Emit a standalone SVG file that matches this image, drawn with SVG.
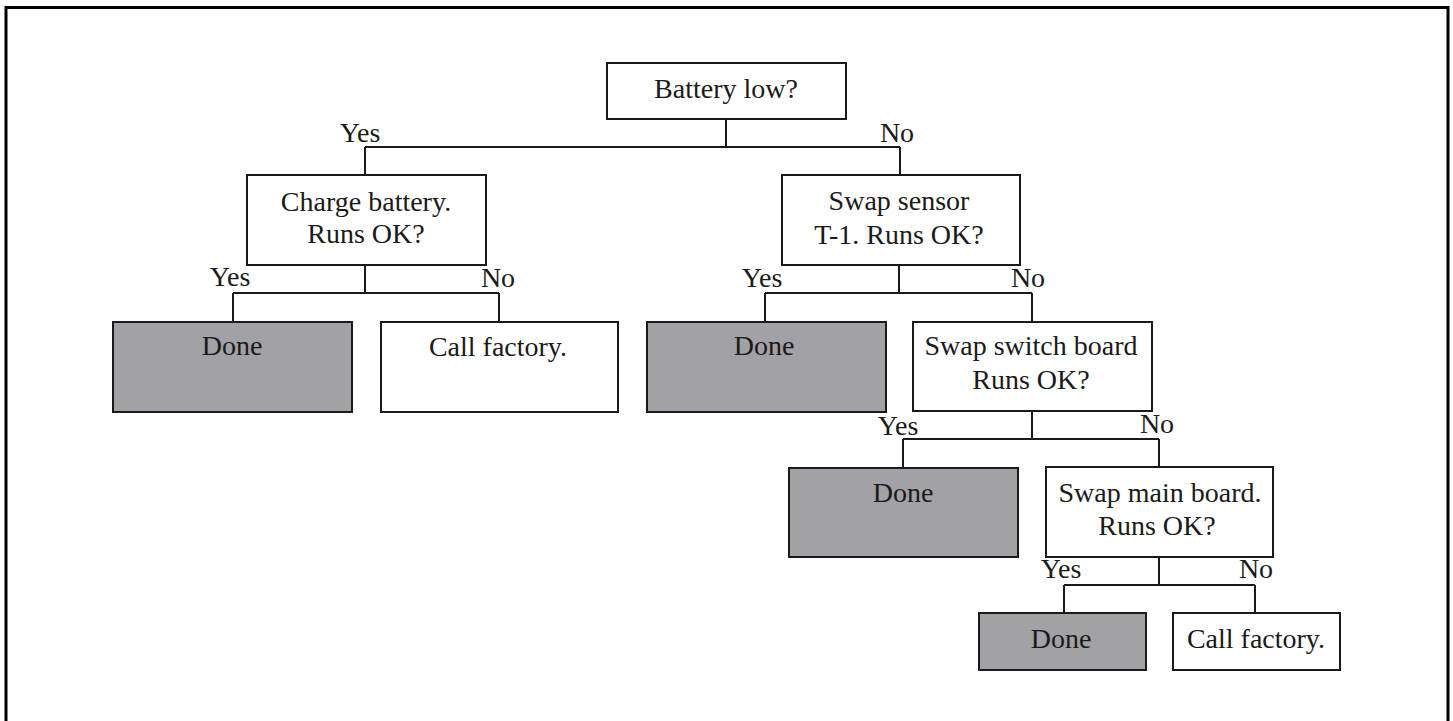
<svg xmlns="http://www.w3.org/2000/svg" width="1453" height="721" viewBox="0 0 1453 721">
<style>
.box{fill:#fff;stroke:#1a1a1a;stroke-width:2}
.done{fill:#a2a1a6;stroke:#1a1a1a;stroke-width:2}
.t{font-family:"Liberation Serif","Times New Roman",serif;font-size:28px;fill:#1a1a1a;text-anchor:middle}
.c{fill:none;stroke:#1a1a1a;stroke-width:2}
</style>
<rect x="0" y="0" width="1453" height="721" fill="#fff"/>
<rect x="6" y="7.5" width="1442" height="730" fill="none" stroke="#000" stroke-width="3"/>
<g id="connectors">
<path class="c" d="M726 119V147M365 147H900M365 147V175M900 147V175"/>
<path class="c" d="M365 265V293M233 293H499M233 293V322M499 293V322"/>
<path class="c" d="M899 265V293M765 293H1032M765 293V322M1032 293V322"/>
<path class="c" d="M1032 411V439M903 439H1159M903 439V468M1159 439V468"/>
<path class="c" d="M1159 557V585M1064 585H1255M1064 585V613M1255 585V613"/>
<text class="t" x="360" y="142">Yes</text>
<text class="t" x="897" y="142">No</text>
<text class="t" x="230" y="286">Yes</text>
<text class="t" x="498" y="287">No</text>
<text class="t" x="762" y="287">Yes</text>
<text class="t" x="1028" y="287">No</text>
<text class="t" x="898" y="435">Yes</text>
<text class="t" x="1157" y="433">No</text>
<text class="t" x="1061" y="578">Yes</text>
<text class="t" x="1256" y="578">No</text>
</g>
<g id="battery">
<rect class="box" x="607" y="63" width="239" height="56"/>
<text class="t" x="726" y="98">Battery low?</text>
</g>
<g id="charge">
<rect class="box" x="247" y="175" width="239" height="90"/>
<text class="t" x="366" y="211">Charge battery.</text>
<text class="t" x="366" y="243">Runs OK?</text>
</g>
<g id="sensor">
<rect class="box" x="782" y="175" width="238" height="90"/>
<text class="t" x="899" y="210">Swap sensor</text>
<text class="t" x="899" y="244">T-1. Runs OK?</text>
</g>
<g id="done1">
<rect class="done" x="113" y="322" width="239" height="90"/>
<text class="t" x="232" y="355">Done</text>
</g>
<g id="callfactory1">
<rect class="box" x="381" y="322" width="237" height="90"/>
<text class="t" x="498" y="356">Call factory.</text>
</g>
<g id="done2">
<rect class="done" x="647" y="322" width="239" height="90"/>
<text class="t" x="764" y="355">Done</text>
</g>
<g id="switch">
<rect class="box" x="913" y="322" width="239" height="89"/>
<text class="t" x="1031" y="355">Swap switch board</text>
<text class="t" x="1031" y="389">Runs OK?</text>
</g>
<g id="done3">
<rect class="done" x="789" y="468" width="229" height="89"/>
<text class="t" x="903" y="502">Done</text>
</g>
<g id="mainboard">
<rect class="box" x="1046" y="467" width="227" height="90"/>
<text class="t" x="1160" y="502">Swap main board.</text>
<text class="t" x="1157" y="535">Runs OK?</text>
</g>
<g id="done4">
<rect class="done" x="979" y="613" width="167" height="57"/>
<text class="t" x="1061" y="648">Done</text>
</g>
<g id="callfactory2">
<rect class="box" x="1173" y="613" width="167" height="57"/>
<text class="t" x="1256" y="648">Call factory.</text>
</g>
</svg>
